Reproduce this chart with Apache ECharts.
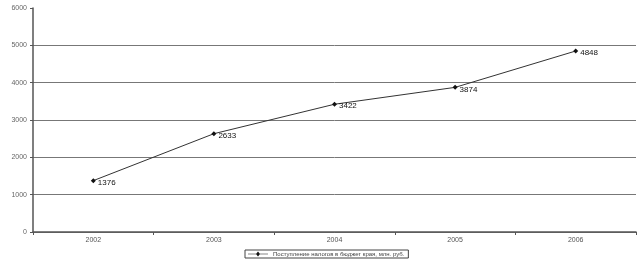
<!DOCTYPE html>
<html><head><meta charset="utf-8">
<script src="https://cdn.jsdelivr.net/npm/echarts@6/dist/echarts.min.js"></script>
<style>html,body{margin:0;padding:0;background:#fff}#c{width:640px;height:266px}</style>
</head><body><div id="c"></div>
<script>
const categories = ['2002','2003','2004','2005','2006'];
const values = [1376, 2633, 3422, 3874, 4848];
const yTicks = [0, 1000, 2000, 3000, 4000, 5000, 6000];
const seriesName = 'Поступление налогов в бюджет края, млн. руб.';

const chart = echarts.init(document.getElementById('c'), null, {renderer:'canvas'});
chart.setOption({
  animation:false,
  backgroundColor:'#fff',
  grid:{left:33, right:4, top:8, bottom:34, containLabel:false},
  xAxis:{
    type:'category', data:categories, boundaryGap:true,
    axisLine:{lineStyle:{color:'#555', width:1.5}},
    axisTick:{show:true, length:3, lineStyle:{color:'#555'}},
    axisLabel:{color:'#555', fontSize:7, fontFamily:'Liberation Sans', margin:5}
  },
  yAxis:{
    type:'value', min:yTicks[0], max:yTicks[yTicks.length-1], interval:1000,
    axisLine:{show:true, lineStyle:{color:'#555', width:1.5}},
    axisTick:{show:true, length:3, lineStyle:{color:'#555'}},
    axisLabel:{color:'#666', fontSize:7, fontFamily:'Liberation Sans', margin:6,
      formatter:function(v){return String(v);}},
    splitLine:{show:true, showMaxLine:false, lineStyle:{color:'#777', width:1}}
  },
  legend:{
    data:[seriesName], left:245, top:250, itemWidth:20, itemHeight:5, itemGap:4,
    padding:[1,4,1,3], borderColor:'#444', borderWidth:1,
    textStyle:{fontSize:6, color:'#444', fontFamily:'Liberation Sans'},
    icon:'path://M0,2.2L20,2.2L20,2.8L0,2.8Z M8,2.5L10,0L12,2.5L10,5Z'
  },
  series:[{
    name:seriesName, type:'line', data:values,
    symbol:'diamond', symbolSize:5,
    lineStyle:{color:'#333', width:1},
    itemStyle:{color:'#111'},
    label:{show:true, position:'right', distance:2, offset:[0,2], color:'#111', fontSize:8, fontFamily:'Liberation Sans'}
  }]
});
</script></body></html>
